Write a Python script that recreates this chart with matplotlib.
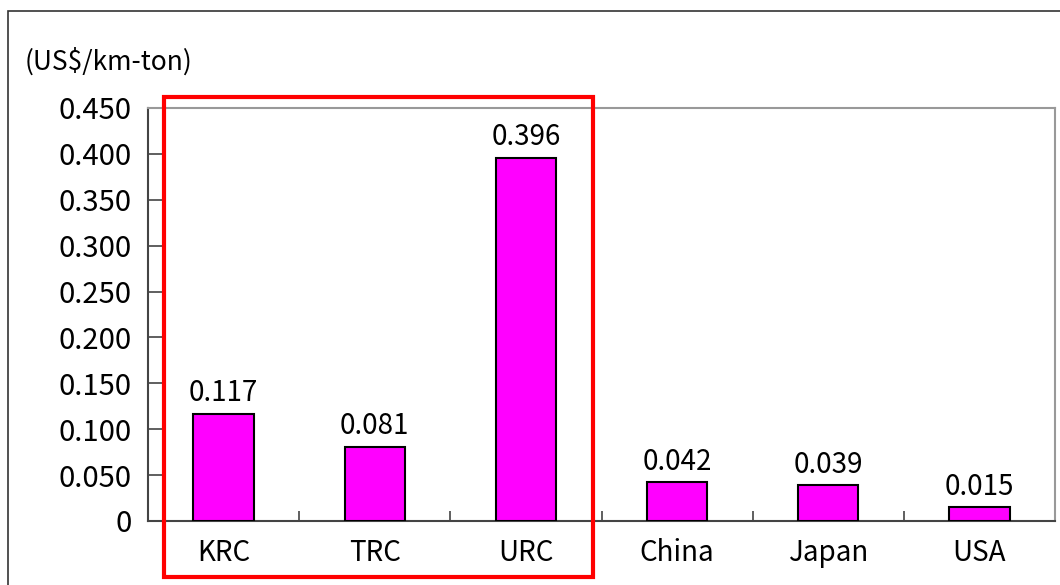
import matplotlib.pyplot as plt
import matplotlib.patches as patches

# 数据
categories = ['KRC', 'TRC', 'URC', 'China', 'Japan', 'USA']
values = [0.117, 0.081, 0.396, 0.042, 0.039, 0.015]
value_labels = ['0.117', '0.081', '0.396', '0.042', '0.039', '0.015']
yticks = [0, 0.05, 0.1, 0.15, 0.2, 0.25, 0.3, 0.35, 0.4, 0.45]
ytick_labels = ['0', '0.050', '0.100', '0.150', '0.200', '0.250',
                '0.300', '0.350', '0.400', '0.450']
unit = '(US$/km-ton)'

plt.rcParams['font.family'] = ['Noto Sans CJK JP', 'DejaVu Sans']

W, H = 1060, 585
fig = plt.figure(figsize=(W / 100, H / 100), dpi=100)
ax = fig.add_axes([148 / W, (H - 521) / H, (1055 - 148) / W, (521 - 108) / H])

x = range(len(categories))
ax.bar(x, values, width=0.4, color='#FF00FF', edgecolor='black', linewidth=1.5, zorder=3)
for i, v in enumerate(values):
    ax.text(i, v + 0.006, value_labels[i], ha='center', va='bottom', fontsize=20)

ax.set_xlim(-0.5, len(categories) - 0.5)
ax.set_ylim(0, 0.45)
ax.set_yticks(yticks)
ax.set_yticklabels(ytick_labels, fontsize=21)
ax.tick_params(axis='y', direction='in', length=10, width=1.2, color='#444444', pad=12)

# x 轴刻度在类别边界
ax.set_xticks([i + 0.5 for i in range(len(categories) - 1)])
ax.set_xticklabels([])
ax.tick_params(axis='x', direction='in', length=7, width=1.2, color='#444444')
ax.set_xticks(list(x), minor=True)
ax.set_xticklabels(categories, minor=True, fontsize=20)
ax.tick_params(axis='x', which='minor', length=0, pad=12)

ax.spines['left'].set_color('#444444')
ax.spines['bottom'].set_color('#444444')
ax.spines['left'].set_linewidth(1.5)
ax.spines['bottom'].set_linewidth(1.5)
ax.spines['top'].set_color('#999999')
ax.spines['right'].set_color('#999999')
ax.spines['top'].set_linewidth(1.5)
ax.spines['right'].set_linewidth(1.5)

fig.text(25 / W, (H - 62) / H, unit, ha='left', va='center', fontsize=19)

# 外框
fig.patches.append(patches.Rectangle((8 / W, -0.05), 1.1, (H - 11) / H + 0.05,
                                     transform=fig.transFigure, fill=False,
                                     edgecolor='#333333', linewidth=1.2))
# 红框
fig.patches.append(patches.Rectangle((164 / W, (H - 577) / H), (593 - 164) / W, (577 - 97) / H,
                                     transform=fig.transFigure, fill=False,
                                     edgecolor='#FF0000', linewidth=3, zorder=10))

fig.savefig('out.png', dpi=100)
